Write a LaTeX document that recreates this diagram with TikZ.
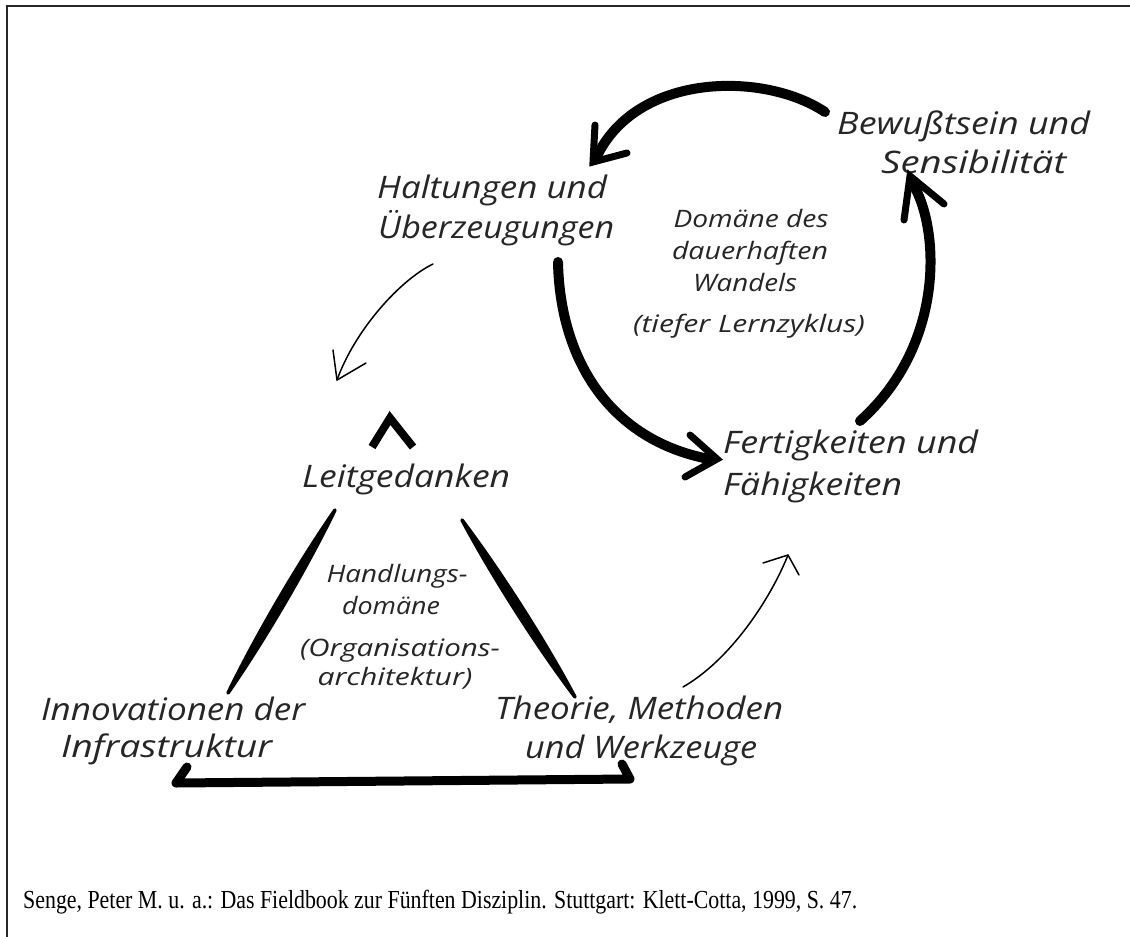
\documentclass[tikz,border=0pt]{standalone}
\usepackage{fontspec}
\usepackage{graphicx}
\newfontfamily\hand{Open Sans}
\newfontfamily\foot{Liberation Serif}
\newcommand\hw[2]{\resizebox{#1pt}{\height}{#2}}
\tikzset{
  lab/.style={font=\hand\itshape\fontsize{31}{36}\selectfont, text=black!85, inner sep=0pt, anchor=base west},
  labc/.style={font=\hand\itshape\fontsize{24}{28}\selectfont, text=black!85, inner sep=0pt, anchor=base},
  brush/.style={line width=10pt, line cap=round, line join=round},
  head/.style={line width=7pt, line cap=round, line join=miter},
  thinarrow/.style={line width=1.5pt, line cap=round, line join=round},
  wedge/.style={fill=black, draw=black, line width=3.5pt, line join=round},
  frame/.style={line width=2pt, black!85}
}
\begin{document}
\begin{tikzpicture}[x=1pt,y=-1pt]
\useasboundingbox (0,0) rectangle (1130,937);
\fill[white] (0,0) rectangle (1130,937);
\draw[frame] (6,6) -- (1130,6);
\draw[frame] (7,6) -- (7,937);

% labels
\node[lab] (bew1) at (837,134) {\hw{253}{Bewußtsein und}};
\node[lab] (bew2) at (881,173) {\hw{185}{Sensibilität}};
\node[lab] (hal1) at (377,198) {\hw{230}{Haltungen und}};
\node[lab] (hal2) at (378,238) {\hw{236}{Überzeugungen}};
\node[labc] (dom1) at (751,227) {\hw{155}{Domäne des}};
\node[labc] (dom2) at (750,259) {\hw{156}{dauerhaften}};
\node[labc] (dom3) at (745,291) {\hw{104}{Wandels}};
\node[labc] (dom4) at (749,332) {\hw{232}{(tiefer Lernzyklus)}};
\node[lab] (fer1) at (723,453) {\hw{255}{Fertigkeiten und}};
\node[lab] (fer2) at (723,495) {\hw{179}{Fähigkeiten}};
\node[lab] (lei) at (302,487) {\hw{208}{Leitgedanken}};
\node[labc] (han1) at (397,582) {\hw{141}{Handlungs-}};
\node[labc] (han2) at (391,614) {\hw{98}{domäne}};
\node[labc] (han3) at (400,656) {\hw{200}{(Organisations-}};
\node[labc] (han4) at (395,685) {\hw{155}{architektur)}};
\node[lab] (inn1) at (41,720) {\hw{264}{Innovationen der}};
\node[lab] (inn2) at (61,757) {\hw{211}{Infrastruktur}};
\node[lab] (the1) at (495,719) {\hw{288}{Theorie, Methoden}};
\node[lab] (the2) at (525,758) {\hw{232}{und Werkzeuge}};
\node[inner sep=0pt, anchor=base west, font=\foot\fontsize{26}{28}\selectfont] (src) at (23,908)
  {\resizebox{834pt}{\height}{Senge, Peter M. u. a.: Das Fieldbook zur Fünften Disziplin. Stuttgart: Klett-Cotta, 1999, S. 47.}};

% connector end points
\coordinate (tA) at (825,112);
\coordinate (tB) at (598,154);
\coordinate (tT) at (593,162);
\coordinate (lA) at (558,262);
\coordinate (lB) at (709,459);
\coordinate (lT) at (717,459);
\coordinate (rA) at (860,421);
\coordinate (rB) at (913,184);
\coordinate (rT) at (910,176);
\coordinate (sA) at (433,264);
\coordinate (sT) at (337,380);
\coordinate (uA) at (683,687);
\coordinate (uT) at (788,555);
\coordinate (cL) at (372,447);
\coordinate (cT) at (390,418);
\coordinate (cR) at (413,447);
\coordinate (pL1) at (335,510);
\coordinate (pL2) at (228,693);
\coordinate (pR1) at (462,520);
\coordinate (pR2) at (575,697);
\coordinate (b1) at (187,767);
\coordinate (b2) at (622,764);

% deep learning cycle
\draw[brush] (tA) .. controls (765,72) and (640,72) .. (tB);
\draw[head] (595,125) -- (tT) -- (627,153);
\draw[brush] (lA) .. controls (560,360) and (610,440) .. (lB);
\draw[head] (690,435) -- (lT) -- (685,477);
\draw[brush] (rA) .. controls (945,345) and (940,230) .. (rB);
\draw[head] (904,220) -- (rT) -- (944,204);

% thin arrows
\draw[thinarrow] (sA) .. controls (400,280) and (355,330) .. (sT);
\draw[thinarrow] (333,350) -- (sT) -- (366,363);
\draw[thinarrow] (uA) .. controls (730,660) and (770,600) .. (uT);
\draw[thinarrow] (763,563) -- (uT) -- (799,575);

% chevron above Leitgedanken
\draw[line width=8pt, line join=miter] (cL) -- (cT) -- (cR);

% triangle
\filldraw[wedge] (pL1) .. controls (307.2,567.4) and (264.4,640.6) .. (pL2)
  .. controls (255.8,635.6) and (298.6,562.4) .. (pL1) -- cycle;
\filldraw[wedge] (pR1) .. controls (500.1,570.4) and (545.3,641.2) .. (pR2)
  .. controls (536.9,646.6) and (491.7,575.8) .. (pR1) -- cycle;
\draw[line width=9pt, line join=round, line cap=round] (b1) -- (176,783) -- (630,779) -- (b2);
\end{tikzpicture}
\end{document}
